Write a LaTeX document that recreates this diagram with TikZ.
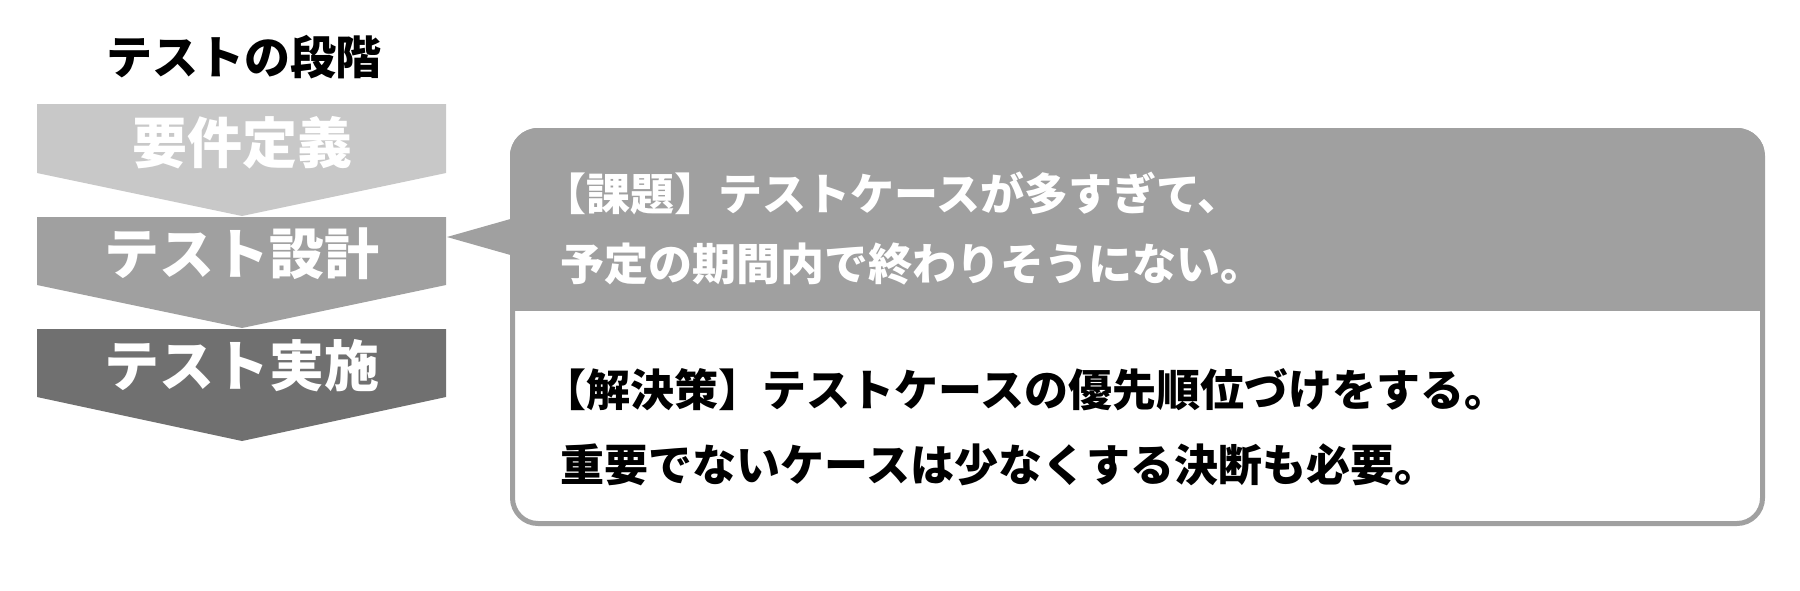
\documentclass[tikz,border=0pt]{standalone}
\usepackage{fontspec}
\setmainfont{Noto Sans CJK JP}
\newfontfamily\heavyjp{Noto Sans CJK JP Black}
\definecolor{cone}{HTML}{C8C8C8}
\definecolor{ctwo}{HTML}{A0A0A0}
\definecolor{cthree}{HTML}{707070}
\begin{document}
\begin{tikzpicture}[x=1pt,y=-1pt,
  stagetext/.style={text=white,font=\fontsize{55}{60}\selectfont\bfseries,anchor=base,inner sep=0pt},
  calltext/.style={font=\fontsize{44}{50}\selectfont\heavyjp,anchor=base west,inner sep=0pt}]
\useasboundingbox (0,0) rectangle (1800,590);
\fill[white] (0,0) rectangle (1800,590);
% title
\node[anchor=base,inner sep=0pt,font=\fontsize{46}{50}\selectfont\bfseries] (title) at (244,74) {テストの段階};
% chevrons
\fill[cone] (37,104) -- (446,104) -- (446,173) -- (242,216) -- (37,173) -- cycle;
\fill[ctwo] (37,217) -- (446,217) -- (446,285) -- (242,328) -- (37,285) -- cycle;
\fill[cthree] (37,329) -- (446,329) -- (446,397) -- (242,441) -- (37,397) -- cycle;
\node[stagetext] (s1) at (242,163) {要件定義};
\node[stagetext] (s2) at (242,274) {テスト設計};
\node[stagetext] (s3) at (242,386) {テスト実施};
% callout
\coordinate (tip) at (447,237);
\coordinate (ba) at (514,218);
\coordinate (bb) at (514,256);
\fill[ctwo] (tip) -- (ba) -- (bb) -- cycle;
\begin{scope}
\clip[rounded corners=28] (510,128) rectangle (1765,526);
\fill[white] (510,128) rectangle (1765,526);
\fill[ctwo] (510,128) rectangle (1765,311);
\end{scope}
\draw[ctwo,line width=5,rounded corners=25.5] (512.5,130.5) rectangle (1762.5,523.5);
\node[calltext,text=white] (l1) at (542,210) {【課題】テストケースが多すぎて、};
\node[calltext,text=white] (l2) at (560,280) {予定の期間内で終わりそうにない。};
\node[calltext] (l3) at (542,406) {【解決策】テストケースの優先順位づけをする。};
\node[calltext] (l4) at (560,481) {重要でないケースは少なくする決断も必要。};
\end{tikzpicture}
\end{document}
